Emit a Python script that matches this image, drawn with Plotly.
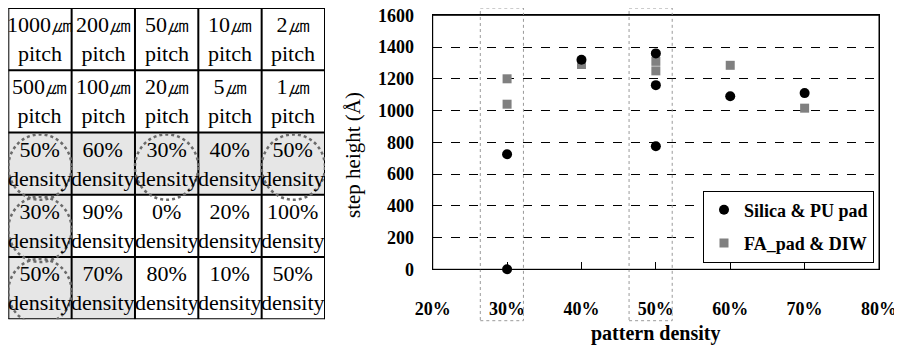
import plotly.graph_objects as go

# ---------------- data ----------------
table_labels = [
    ["1000㎛<br>pitch", "200㎛<br>pitch", "50㎛<br>pitch", "10㎛<br>pitch", "2㎛<br>pitch"],
    ["500㎛<br>pitch", "100㎛<br>pitch", "20㎛<br>pitch", "5㎛<br>pitch", "1㎛<br>pitch"],
    ["50%<br>density", "60%<br>density", "30%<br>density", "40%<br>density", "50%<br>density"],
    ["30%<br>density", "90%<br>density", "0%<br>density", "20%<br>density", "100%<br>density"],
    ["50%<br>density", "70%<br>density", "80%<br>density", "10%<br>density", "50%<br>density"],
]
shaded_cells = [(2, 0), (2, 1), (2, 2), (2, 3), (2, 4), (3, 0), (4, 0), (4, 1)]
circled_cells = [(2, 0), (2, 2), (2, 4), (3, 0), (4, 0)]

silica_x = [30, 30, 40, 50, 50, 50, 60, 70]
silica_y = [0, 725, 1320, 1360, 1160, 775, 1090, 1110]
fa_x = [30, 30, 40, 50, 50, 60, 70]
fa_y = [1200, 1040, 1290, 1310, 1250, 1285, 1015]

x_ticks = [20, 30, 40, 50, 60, 70, 80]
x_tick_labels = ["20%", "30%", "40%", "50%", "60%", "70%", "80%"]
y_ticks = [0, 200, 400, 600, 800, 1000, 1200, 1400, 1600]
highlight_density = [30, 50]

# page has an 8px body margin; figure is sized to fill the rest of the window
OFF = 8
W, H = 902 - OFF, 347 - OFF
SERIF = "Times New Roman, Liberation Serif, DejaVu Serif, serif"


def px(x):
    return (x - OFF) / W


def py(y):
    return 1 - (y - OFF) / H


fig = go.Figure()

fig.add_trace(go.Scatter(
    x=fa_x, y=fa_y, mode="markers", name="FA_pad & DIW",
    marker=dict(symbol="square", size=9, color="#808080"),
    legendrank=2, legendgroup="fa", cliponaxis=False,
))
fig.add_trace(go.Scatter(
    x=silica_x, y=silica_y, mode="markers", name="Silica & PU pad",
    marker=dict(symbol="circle", size=10, color="black"),
    legendrank=1, legendgroup="si", cliponaxis=False,
))

fig.update_layout(
    template="none",
    width=W, height=H,
    margin=dict(l=0, r=0, t=0, b=0, autoexpand=False),
    paper_bgcolor="white", plot_bgcolor="white",
    font=dict(family=SERIF, color="black"),
    showlegend=True,
    legend=dict(
        x=px(703), y=py(190.5), xanchor="left", yanchor="top",
        bgcolor="white", bordercolor="black", borderwidth=1,
        font=dict(family=SERIF, size=18, color="black", weight="bold"),
        itemwidth=30, tracegroupgap=7,
    ),
    xaxis=dict(
        domain=[px(432.7), px(879)], range=[20, 80], tickvals=x_ticks,
        ticktext=x_tick_labels, automargin=False, ticklabeloverflow="allow",
        showgrid=False, zeroline=False, showline=True, linecolor="black",
        linewidth=1, mirror=True, ticks="inside", ticklen=7, tickcolor="black",
        tickfont=dict(family=SERIF, size=18, weight="bold"),
        ticklabelstandoff=23,
    ),
    yaxis=dict(
        domain=[py(269.3), py(15.3)], range=[0, 1600], tickvals=y_ticks,
        automargin=False, ticklabeloverflow="allow",
        showgrid=True, gridcolor="black", griddash="dash", gridwidth=1,
        zeroline=False, showline=True, linecolor="black", linewidth=1,
        mirror=True, ticks="",
        tickfont=dict(family=SERIF, size=18, weight="bold"),
        ticklabelstandoff=14,
    ),
    xaxis2=dict(domain=[px(8.3), px(325)], range=[0, 5], visible=False,
                anchor="y2", fixedrange=True, automargin=False),
    yaxis2=dict(domain=[py(319.3), py(8)], range=[5, 0], visible=False,
                anchor="x2", fixedrange=True, automargin=False),
)

# dummy trace to activate table axes
fig.add_trace(go.Scatter(x=[None], y=[None], xaxis="x2", yaxis="y2",
                         showlegend=False, hoverinfo="skip"))

shapes = []
for (r, c) in shaded_cells:
    shapes.append(dict(type="rect", xref="x2", yref="y2", x0=c, x1=c + 1,
                       y0=r, y1=r + 1, fillcolor="#e6e6e6",
                       line=dict(width=0), layer="below"))
nrows, ncols = len(table_labels), len(table_labels[0])
for c in range(ncols + 1):
    shapes.append(dict(type="line", xref="x2", yref="y2", x0=c, x1=c, y0=0,
                       y1=nrows, line=dict(color="black", width=2)))
for r in range(nrows + 1):
    shapes.append(dict(type="line", xref="x2", yref="y2", x0=0, x1=ncols,
                       y0=r, y1=r, line=dict(color="black", width=2)))
for (r, c) in circled_cells:
    shapes.append(dict(type="circle", xref="x2", yref="y2", x0=c + 0.0,
                       x1=c + 1.0, y0=r + 0.03, y1=r + 1.08,
                       line=dict(color="#6a6a6a", width=2.5, dash="dot")))
for d in highlight_density:
    shapes.append(dict(type="rect", xref="x", yref="paper", x0=d - 3.6,
                       x1=d + 2.2, y0=py(320.7), y1=1.0,
                       line=dict(color="#9a9a9a", width=1, dash="dot")))
# plot-area frame
shapes.append(dict(type="rect", xref="x domain", yref="y domain", x0=0, x1=1,
                   y0=0, y1=1, line=dict(color="black", width=1),
                   fillcolor="rgba(0,0,0,0)", layer="above"))
fig.update_layout(shapes=shapes)

annotations = []
for r, row in enumerate(table_labels):
    for c, txt in enumerate(row):
        annotations.append(dict(
            xref="x2", yref="y2", x=c + 0.5, y=r + 0.5, text=txt,
            showarrow=False, xanchor="center", yanchor="middle",
            font=dict(family=SERIF, size=22, color="black"),
        ))
annotations.append(dict(
    xref="paper", yref="paper", x=px(353), y=py(155),
    text="step height (Å)", textangle=-90, showarrow=False,
    xanchor="center", yanchor="middle",
    font=dict(family=SERIF, size=21, color="black"),
))
annotations.append(dict(
    xref="paper", yref="paper", x=px(655), y=py(333),
    text="pattern density", showarrow=False,
    xanchor="center", yanchor="middle",
    font=dict(family=SERIF, size=20, color="black", weight="bold"),
))
fig.update_layout(annotations=annotations)

fig.write_html("out.html")
